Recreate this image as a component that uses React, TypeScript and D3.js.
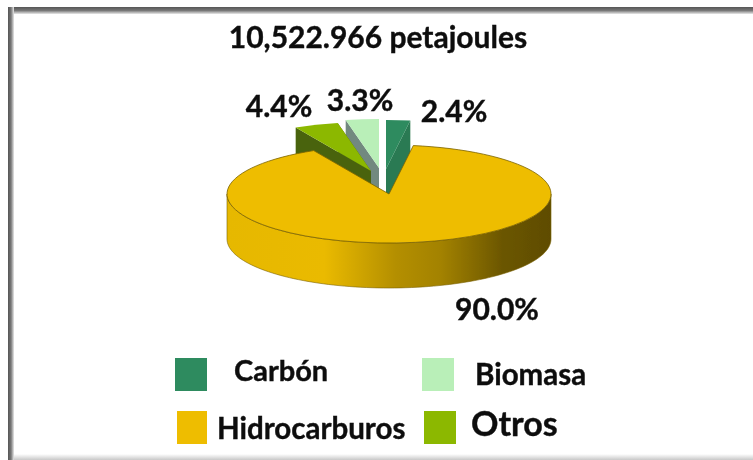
import * as React from 'react'
import * as d3 from 'd3'

const categories = ['Carbón', 'Hidrocarburos', 'Otros', 'Biomasa']
const shares = [2.4, 90.0, 4.4, 3.3]
const shareLabels = ['2.4%', '90.0%', '4.4%', '3.3%']
const title = '10,522.966 petajoules'

const topColors = ['#2e8b5e', '#eebd00', '#8cb800', '#b9efb8']
const wallColors = ['#2a7a52', '#8f7200', '#4a6410', '#72897f']

const width = 753
const height = 460
const cx = 389
const cy = 194
const rx = 162
const ry = 49
const depth = 45

// how far each small slice is pulled out of the pie
const explode: Record<string, [number, number]> = {
  Carbón: [-3, -25],
  Otros: [-18, -23],
  Biomasa: [-10, -26],
}

// back to front, otros has to overlap the biomasa wall
const drawOrder = ['Carbón', 'Biomasa', 'Otros']

const labelPos: Record<string, [number, number]> = {
  Carbón: [454, 122],
  Hidrocarburos: [497, 320],
  Otros: [279, 117],
  Biomasa: [360, 111],
}

const legendPos: Record<string, { box: number[]; x: number; y: number; size: number }> = {
  Carbón: { box: [175, 358, 32, 33], x: 234, y: 381, size: 29 },
  Biomasa: { box: [422, 358, 32, 33], x: 475, y: 385, size: 29.5 },
  Hidrocarburos: { box: [177, 411, 30, 33], x: 217, y: 439, size: 29.5 },
  Otros: { box: [424, 411, 32, 33], x: 471, y: 436, size: 34 },
}

const font = 'Lato, "Open Sans", sans-serif'

const color = d3.scaleOrdinal<string, string>().domain(categories).range(topColors)
const wall = d3.scaleOrdinal<string, string>().domain(categories).range(wallColors)

const pie = d3
  .pie<number>()
  .sort(null)
  .value((d) => d)

const arc = d3.arc<d3.PieArcDatum<number>>().innerRadius(0).outerRadius(rx)

// point on the top ellipse, angle measured clockwise from 12 o'clock
const px = (a: number) => Math.sin(a) * rx
const py = (a: number) => -Math.cos(a) * ry

const line = d3.line<[number, number]>()

function frontWall() {
  const angles = d3.range(90, 270.5, 2).map((d) => (d * Math.PI) / 180)
  const upper = angles.map((a) => [px(a), py(a)] as [number, number])
  const lower = upper.map(([x, y]) => [x, y + depth] as [number, number]).reverse()
  return line([...upper, ...lower]) + 'Z'
}

function cutPlane(a: number) {
  return (
    line([
      [0, 0],
      [px(a), py(a)],
      [px(a), py(a) + depth],
      [0, depth],
    ]) + 'Z'
  )
}

export default function App() {
  const slices = pie(shares)
  const big = slices[categories.indexOf('Hidrocarburos')]

  return (
    <svg
      width={width}
      height={height}
      style={{ position: 'absolute', left: 0, top: 0, background: '#fff' }}
    >
      <defs>
        <linearGradient id="side" gradientUnits="userSpaceOnUse" x1={-rx} x2={rx} y1={0} y2={0}>
          <stop offset="0" stopColor="#e6b800" />
          <stop offset="0.3" stopColor="#eaba00" />
          <stop offset="0.52" stopColor="#b48f00" />
          <stop offset="0.66" stopColor="#a38200" />
          <stop offset="0.85" stopColor="#6b5600" />
          <stop offset="1" stopColor="#5f4c00" />
        </linearGradient>
        <linearGradient id="frameTop" x1="0" x2="0" y1="0" y2="1">
          <stop offset="0" stopColor="#555" />
          <stop offset="0.5" stopColor="#777" />
          <stop offset="1" stopColor="#e8e8e8" />
        </linearGradient>
        <linearGradient id="frameLeft" x1="0" x2="1" y1="0" y2="0">
          <stop offset="0" stopColor="#555" />
          <stop offset="0.5" stopColor="#777" />
          <stop offset="1" stopColor="#e8e8e8" />
        </linearGradient>
        <linearGradient id="frameBottom" x1="0" x2="0" y1="0" y2="1">
          <stop offset="0" stopColor="#fff" />
          <stop offset="1" stopColor="#c8c8c8" />
        </linearGradient>
        <filter id="soft" x="-5%" y="-5%" width="110%" height="110%">
          <feGaussianBlur stdDeviation="0.6" />
        </filter>
      </defs>

      <rect x={8} y={7} width={width - 8} height={7} fill="url(#frameTop)" />
      <rect x={8} y={7} width={6} height={height - 7} fill="url(#frameLeft)" />
      <rect x={14} y={454} width={width - 14} height={6} fill="url(#frameBottom)" />

      <g filter="url(#soft)">
        {drawOrder.map((name) => {
          const s = slices[categories.indexOf(name)]
          const [dx, dy] = explode[name]
          return (
            <g key={name} transform={`translate(${cx + dx},${cy + dy})`}>
              <path d={cutPlane(s.startAngle)} fill={wall(name)} />
              <path d={cutPlane(s.endAngle)} fill={wall(name)} />
              <path d={arc(s) || ''} transform={`scale(1,${ry / rx})`} fill={color(name)} />
            </g>
          )
        })}

        <g transform={`translate(${cx},${cy})`}>
          <path d={frontWall()} fill="url(#side)" stroke="#7a6200" strokeWidth={0.6} />
          <path
            d={arc(big) || ''}
            transform={`scale(1,${ry / rx})`}
            fill={color('Hidrocarburos')}
            stroke="#7a6200"
            strokeWidth={0.8}
            vectorEffect="non-scaling-stroke"
          />
        </g>
      </g>

      <g filter="url(#soft)" fontFamily={font} fontWeight={700} fill="#111" stroke="#111" strokeWidth={0.4}>
        <text x={378} y={48} fontSize={30} textAnchor="middle">
          {title}
        </text>
        {slices.map((s) => {
          const name = categories[s.index]
          const [x, y] = labelPos[name]
          return (
            <text key={name} x={x} y={y} fontSize={30} textAnchor="middle">
              {shareLabels[s.index]}
            </text>
          )
        })}
        {categories.map((name) => {
          const l = legendPos[name]
          return (
            <g key={name}>
              <rect x={l.box[0]} y={l.box[1]} width={l.box[2]} height={l.box[3]} fill={color(name)} stroke="none" />
              <text x={l.x} y={l.y} fontSize={l.size}>
                {name}
              </text>
            </g>
          )
        })}
      </g>
    </svg>
  )
}
